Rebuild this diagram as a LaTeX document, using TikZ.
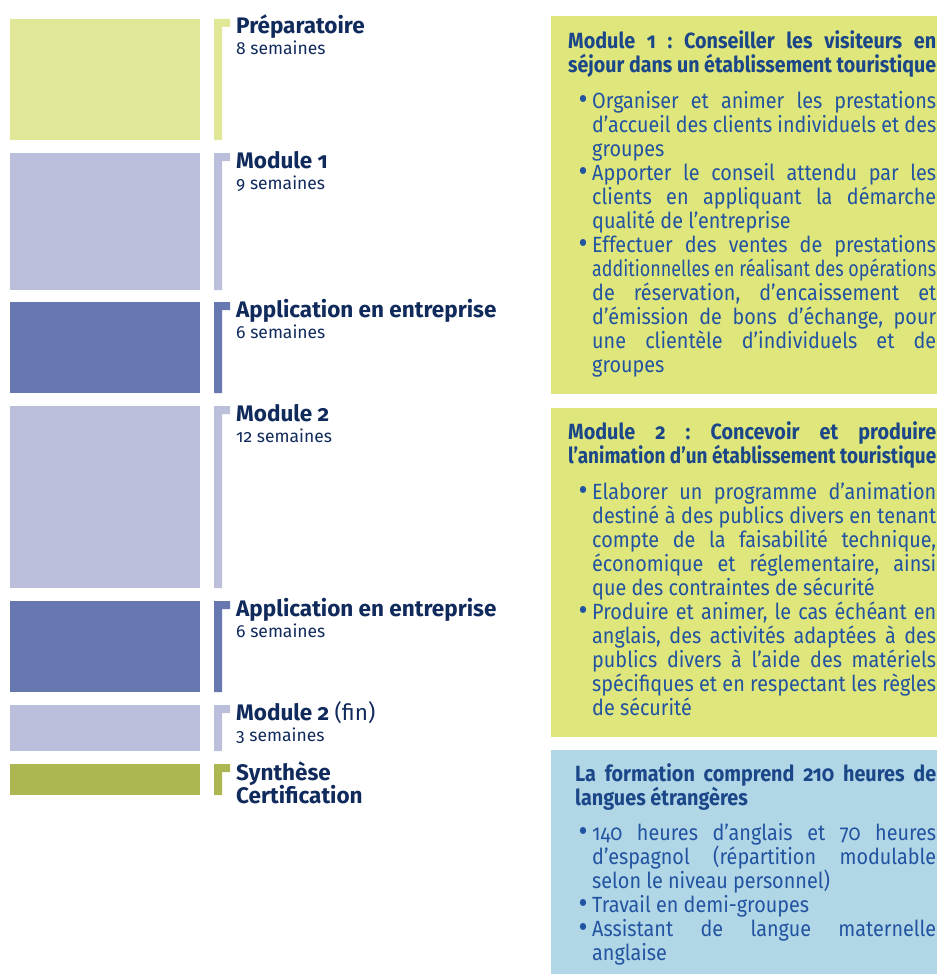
\documentclass[tikz,border=0pt]{standalone}
\usepackage{fontspec}
\usepackage{graphicx}
\setmainfont{Fira Sans}[Numbers=OldStyle,FakeStretch=0.9]
\newfontfamily\lblfont{Fira Sans}[Numbers=OldStyle]
\definecolor{lgreen}{HTML}{E0E898}
\definecolor{bgreen}{HTML}{DEE67C}
\definecolor{lav}{HTML}{BBBFDC}
\definecolor{mblue}{HTML}{6777B0}
\definecolor{olive}{HTML}{ADB752}
\definecolor{lblue}{HTML}{B1D7E7}
\definecolor{navy}{HTML}{102A5C}
\definecolor{ttlblue}{HTML}{1B4789}
\definecolor{bodyblue}{HTML}{2253A0}
\newsavebox\mylinebox
\newcommand\mysp{\frenchspacing\spaceskip=0pt\xspaceskip=0pt\relax}
% justify a line to width #1, or squeeze it if it is too wide
\newcommand\myfit[2]{\sbox\mylinebox{\mysp #2}%
  \ifdim\wd\mylinebox>#1\relax\resizebox{#1}{\height}{\usebox\mylinebox}%
  \else\makebox[#1][s]{\mysp #2}\fi}
\newcommand\mybul{\makebox[14pt][l]{\hspace*{0.5pt}\raisebox{-1.5pt}{\scalebox{1.4}{\textbullet}}}}
\newcommand\myjl[1]{\hspace*{24pt}\myfit{344pt}{#1}}
\newcommand\myll[1]{\hspace*{24pt}\makebox[344pt][l]{\mysp #1}}
\newcommand\mybj[1]{\hspace*{10pt}\mybul\myfit{344pt}{#1}}
\newcommand\mybl[1]{\hspace*{10pt}\mybul\makebox[344pt][l]{\mysp #1}}
\newcommand\myst{\rule{0pt}{18pt}}
\begin{document}
\begin{tikzpicture}[x=1pt,y=-1pt,
  lbl/.style={anchor=base west,inner sep=0pt,font=\lblfont\fontsize{22.5}{24}\selectfont\bfseries,text=navy},
  sub/.style={anchor=base west,inner sep=0pt,font=\lblfont\fontsize{17.5}{20}\selectfont,text=navy},
  boxtxt/.style={anchor=north west,inner sep=0pt,text width=372pt,align=left,font=\fontsize{22}{24}\selectfont,text=bodyblue}]
\useasboundingbox (0,0) rectangle (937,974);
% left timeline blocks
\fill[lgreen] (10,19) rectangle (200,140);
\fill[lgreen] (214,19) rectangle (222,140) (214,19) rectangle (230,27);
\fill[lav] (10,153) rectangle (200,290);
\fill[lav] (214,153) rectangle (222,290) (214,153) rectangle (230,161);
\fill[mblue] (10,302) rectangle (200,393);
\fill[mblue] (214,302) rectangle (222,393) (214,302) rectangle (230,310);
\fill[lav] (10,406) rectangle (200,588);
\fill[lav] (214,406) rectangle (222,588) (214,406) rectangle (230,414);
\fill[mblue] (10,601) rectangle (200,692);
\fill[mblue] (214,601) rectangle (222,692) (214,601) rectangle (230,609);
\fill[lav] (10,705) rectangle (200,751);
\fill[lav] (214,705) rectangle (222,751) (214,705) rectangle (230,713);
\fill[olive] (10,764) rectangle (200,795);
\fill[olive] (214,764) rectangle (222,795) (214,764) rectangle (230,772);
% labels
\node[lbl] (l1) at (236,34) {Préparatoire};
\node[sub] (s1) at (236,55) {8 semaines};
\node[lbl] (l2) at (236,168) {Module 1};
\node[sub] (s2) at (236,189) {9 semaines};
\node[lbl] (l3) at (236,317) {Application en entreprise};
\node[sub] (s3) at (236,338) {6 semaines};
\node[lbl] (l4) at (236,421) {Module 2};
\node[sub] (s4) at (236,442) {12 semaines};
\node[lbl] (l5) at (236,616) {Application en entreprise};
\node[sub] (s5) at (236,637) {6 semaines};
\node[lbl] (l6) at (236,720) {Module 2 {\mdseries(fin)}};
\node[sub] (s6) at (236,741) {3 semaines};
\node[lbl] (l7) at (236,780) {Synthèse};
\node[lbl] (l8) at (236,803) {Certification};
% right boxes
\fill[bgreen] (551,16) rectangle (937,394);
\fill[bgreen] (551,408) rectangle (937,737);
\fill[lblue] (551,750) rectangle (937,974);
\node[boxtxt] (b1) at (568,30) {%
\myst\myfit{368pt}{\color{ttlblue}\bfseries Module 1 : Conseiller les visiteurs en}\\
\myfit{368pt}{\color{ttlblue}\bfseries séjour dans un établissement touristique}\\[12pt]
\mybj{Organiser et animer les prestations}\\
\myjl{d’accueil des clients individuels et des}\\
\myll{groupes}\\
\mybj{Apporter le conseil attendu par les}\\
\myjl{clients en appliquant la démarche}\\
\myll{qualité de l’entreprise}\\
\mybj{Effectuer des ventes de prestations}\\
\myjl{additionnelles en réalisant des opérations}\\
\myjl{de réservation, d’encaissement et}\\
\myjl{d’émission de bons d’échange, pour}\\
\myjl{une clientèle d’individuels et de}\\
\myll{groupes}};
\node[boxtxt] (b2) at (568,421) {%
\myst\myfit{368pt}{\color{ttlblue}\bfseries Module 2 : Concevoir et produire}\\
\myfit{368pt}{\color{ttlblue}\bfseries l’animation d’un établissement touristique}\\[12pt]
\mybj{Elaborer un programme d’animation}\\
\myjl{destiné à des publics divers en tenant}\\
\myjl{compte de la faisabilité technique,}\\
\myjl{économique et réglementaire, ainsi}\\
\myll{que des contraintes de sécurité}\\
\mybj{Produire et animer, le cas échéant en}\\
\myjl{anglais, des activités adaptées à des}\\
\myjl{publics divers à l’aide des matériels}\\
\myjl{spécifiques et en respectant les règles}\\
\myll{de sécurité}};
\node[boxtxt] (b3) at (568,763) {%
\myst\hspace*{7pt}\myfit{361pt}{\color{ttlblue}\bfseries La formation comprend 210 heures de}\\
\hspace*{7pt}\makebox[361pt][l]{\mysp\color{ttlblue}\bfseries langues étrangères}\\[11pt]
\mybj{140 heures d’anglais et 70 heures}\\
\myjl{d’espagnol (répartition modulable}\\
\myll{selon le niveau personnel)}\\
\mybl{Travail en demi-groupes}\\
\mybj{Assistant de langue maternelle}\\
\myll{anglaise}};
\end{tikzpicture}
\end{document}
